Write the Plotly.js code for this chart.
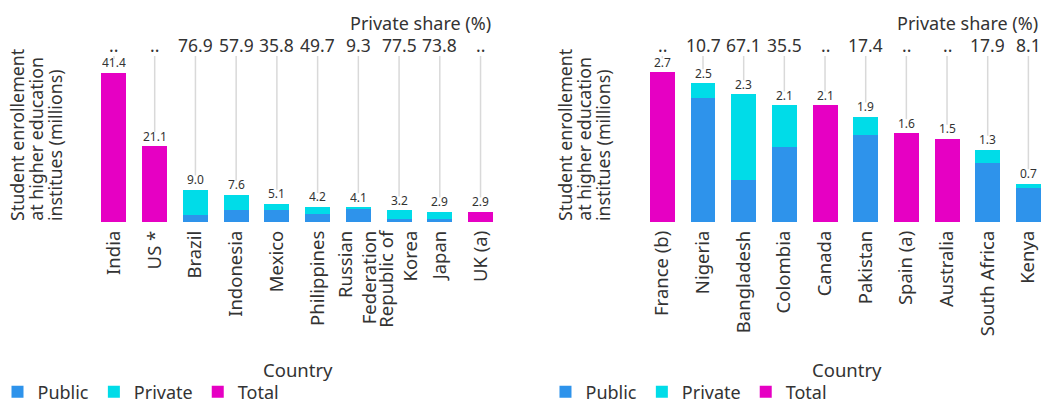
<!DOCTYPE html>
<html><head><meta charset="utf-8">
<script src="https://cdn.plot.ly/plotly-3.0.1.min.js"></script>
<style>html,body{margin:0;padding:0;overflow:hidden;background:#fff}#chart{width:1042px;height:405px}</style>
</head><body><div id="chart"></div>
<script>
// ---- Data ----
const leftCountries = ["India","US *","Brazil","Indonesia","Mexico","Philippines","Russian<br>Federation","Republic of<br>Korea","Japan","UK (a)"];
const leftTotal     = [41.4, 21.1, 9.0, 7.6, 5.1, 4.2, 4.1, 3.2, 2.9, 2.9];
const leftPublic    = [null, null, 2.08, 3.20, 3.27, 2.11, 3.72, 0.72, 0.76, null];
const leftPrivate   = [null, null, 6.92, 4.40, 1.83, 2.09, 0.38, 2.48, 2.14, null];
const leftTotalOnly = [41.4, 21.1, null, null, null, null, null, null, null, 2.9];
const leftShare     = ["..","..","76.9","57.9","35.8","49.7","9.3","77.5","73.8",".."];
const leftLabels    = ["41.4","21.1","9.0","7.6","5.1","4.2","4.1","3.2","2.9","2.9"];

const rightCountries = ["France (b)","Nigeria","Bangladesh","Colombia","Canada","Pakistan","Spain (a)","Australia","South Africa","Kenya"];
const rightTotal     = [2.7, 2.5, 2.3, 2.1, 2.1, 1.9, 1.6, 1.5, 1.3, 0.7];
const rightPublic    = [null, 2.23, 0.76, 1.35, null, 1.57, null, null, 1.07, 0.62];
const rightPrivate   = [null, 0.27, 1.54, 0.75, null, 0.33, null, null, 0.23, 0.06];
const rightTotalOnly = [2.7, null, null, null, 2.1, null, 1.6, 1.5, null, null];
const rightShare     = ["..","10.7","67.1","35.5","..","17.4","..","..","17.9","8.1"];
const rightLabels    = ["2.7","2.5","2.3","2.1","2.1","1.9","1.6","1.5","1.3","0.7"];

const legendNames = ["Public","Private","Total"];
const colors = {Public:"#2e93eb", Private:"#00dce8", Total:"#e600c3"};
const yTitleLines = ["Student enrollement","at higher education","institues (millions)"];

// ---- Layout constants ----
const W = 1042, H = 405;
const plotTopPx = 30, baselinePx = 222, shareLabelPx = 44.5;
const leftPxPerUnit = 3.6, rightPxPerUnit = 55.5;
const leftYMax = (baselinePx - plotTopPx) / leftPxPerUnit;
const rightYMax = (baselinePx - plotTopPx) / rightPxPerUnit;
const leftShareY = (baselinePx - shareLabelPx) / leftPxPerUnit;
const rightShareY = (baselinePx - shareLabelPx) / rightPxPerUnit;
const txt = "#333333";
const FONT = "Noto Sans, Open Sans, sans-serif";

function barTraces(cats, pub, priv, tot, xa, ya, lg) {
  const series = [pub, priv, tot];
  return legendNames.map((n, i) => ({
    type: "bar", name: n, x: cats, y: series[i],
    xaxis: xa, yaxis: ya, legend: lg,
    marker: {color: colors[n]}, hoverinfo: "skip"
  }));
}

const data = [
  ...barTraces(leftCountries, leftPublic, leftPrivate, leftTotalOnly, "x", "y", "legend"),
  ...barTraces(rightCountries, rightPublic, rightPrivate, rightTotalOnly, "x2", "y2", "legend2")
];

const annotations = [];
function addLabels(cats, totals, labels, shares, xr, yr, shareY) {
  cats.forEach((c, i) => {
    annotations.push({
      xref: xr, yref: yr, x: c, y: totals[i], text: labels[i],
      showarrow: false, yanchor: "bottom", xanchor: "center", yshift: 3.5, borderpad: 0,
      height: 12, valign: "middle",
      font: {size: 12, color: txt}
    });
    annotations.push({
      xref: xr, yref: yr, x: c, y: totals[i],
      axref: xr, ayref: yr, ax: c, ay: shareY,
      text: shares[i], showarrow: true, arrowhead: 0, arrowwidth: 1.5,
      arrowcolor: "#d9d9d9", standoff: 14, borderpad: 0, height: 22, valign: "middle",
      font: {size: 17.5, color: txt}
    });
  });
}
addLabels(leftCountries, leftTotal, leftLabels, leftShare, "x", "y", leftShareY);
addLabels(rightCountries, rightTotal, rightLabels, rightShare, "x2", "y2", rightShareY);

// y-axis titles (three lines, tight line pitch), "Private share (%)" headers, "Country" titles
[[16.5, 492.7, 297.5], [564.5, 1040, 846.5]].forEach(([tx, px, cx]) => {
  yTitleLines.forEach((line, k) => {
    annotations.push({xref:"paper", yref:"paper", x: (tx + k * 19.3) / W, y: (H - baselinePx) / H,
      text: line, textangle: -90, showarrow: false, xanchor: "center", yanchor: "bottom",
      borderpad: 0, font: {size: 17.8, color: txt}});
  });
  annotations.push({xref:"paper", yref:"paper", x: px / W, y: (H - 23.5) / H,
    text: "Private share (%)", showarrow: false, xanchor: "right", yanchor: "middle",
    font: {size: 18, color: txt}});
  annotations.push({xref:"paper", yref:"paper", x: cx / W, y: (H - 369.5) / H,
    text: "Country", showarrow: false, xanchor: "center", yanchor: "middle",
    font: {size: 18.5, color: txt}});
});

const xCommon = {type: "category", tickangle: -90, ticks: "", showgrid: false, zeroline: false,
  showline: false, automargin: false, tickfont: {size: 18.5, color: txt}, ticklabelstandoff: 4,
  fixedrange: true};
const yCommon = {showgrid: false, zeroline: false, showline: false, showticklabels: false,
  ticks: "", fixedrange: true};
const yDomain = [(H - baselinePx) / H, (H - plotTopPx) / H];

const layout = {
  width: W, height: H,
  margin: {l: 0, r: 0, t: 0, b: 0, autoexpand: false},
  paper_bgcolor: "#fff", plot_bgcolor: "#fff",
  font: {family: FONT, color: txt},
  barmode: "stack", bargap: 0.386,
  showlegend: true, hovermode: false,
  xaxis: Object.assign({}, xCommon, {domain: [93.6 / W, 500.9 / W], range: [-0.5, 9.5], anchor: "y"}),
  yaxis: Object.assign({}, yCommon, {domain: yDomain, range: [0, leftYMax], anchor: "x"}),
  xaxis2: Object.assign({}, xCommon, {domain: [642 / W, 1], range: [-0.5, 9.335], anchor: "y2"}),
  yaxis2: Object.assign({}, yCommon, {domain: yDomain, range: [0, rightYMax], anchor: "x2"}),
  legend: {orientation: "h", x: -0.0024, xanchor: "left", y: 0.032, yanchor: "middle",
    traceorder: "normal", font: {size: 18, color: txt}, bgcolor: "rgba(0,0,0,0)"},
  legend2: {orientation: "h", x: 0.5235, xanchor: "left", y: 0.032, yanchor: "middle",
    traceorder: "normal", font: {size: 18, color: txt}, bgcolor: "rgba(0,0,0,0)"},
  annotations: annotations
};

Plotly.newPlot("chart", data, layout, {displayModeBar: false, staticPlot: true});
</script>
</body></html>
